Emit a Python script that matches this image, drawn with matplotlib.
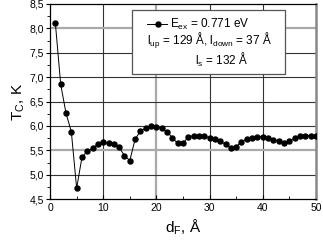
import numpy as np
import matplotlib.pyplot as plt
from matplotlib.ticker import MultipleLocator, FuncFormatter
from matplotlib.patches import Rectangle

plt.rcParams['font.family'] = ['Liberation Sans', 'DejaVu Sans']
plt.rcParams['mathtext.fontset'] = 'custom'
plt.rcParams['mathtext.rm'] = 'Liberation Sans'
plt.rcParams['mathtext.it'] = 'Liberation Sans'

d_f = list(range(1, 51))
t_c = [8.10, 6.85, 6.26, 5.88, 4.72, 5.36, 5.48, 5.54, 5.63, 5.66,
       5.65, 5.62, 5.56, 5.39, 5.29, 5.73, 5.89, 5.96, 5.99, 5.98,
       5.95, 5.88, 5.76, 5.64, 5.64, 5.78, 5.80, 5.80, 5.79, 5.76,
       5.73, 5.69, 5.62, 5.54, 5.57, 5.68, 5.73, 5.76, 5.78, 5.78,
       5.75, 5.72, 5.69, 5.65, 5.69, 5.75, 5.79, 5.80, 5.80, 5.79]

fig = plt.figure(figsize=(3.23, 2.44), dpi=100)
ax = fig.add_axes([0.155, 0.184, 0.823, 0.8])

# grid lines (some gray, some dark like the original)
for xv, c in [(10, '#333333'), (20, '#aaaaaa'), (30, '#333333'), (40, '#333333')]:
    ax.axvline(xv, color=c, lw=0.8 if c == '#333333' else 1.6, zorder=1)
for yv, c in [(8.0, '#aaaaaa'), (7.5, '#333333'), (7.0, '#333333'), (6.5, '#333333'),
              (6.0, '#333333'), (5.5, '#aaaaaa'), (5.0, '#333333')]:
    ax.axhline(yv, color=c, lw=0.8 if c == '#333333' else 1.6, zorder=1)

ax.plot(d_f, t_c, '-o', color='black', lw=0.7, ms=3.6, zorder=3)

ax.set_xlim(0, 50)
ax.set_ylim(4.5, 8.5)
ax.xaxis.set_major_locator(MultipleLocator(10))
ax.xaxis.set_minor_locator(MultipleLocator(5))
ax.yaxis.set_major_locator(MultipleLocator(0.5))
ax.yaxis.set_minor_locator(MultipleLocator(0.25))
ax.yaxis.set_major_formatter(FuncFormatter(lambda v, p: f'{v:.1f}'.replace('.', ',')))
ax.tick_params(axis='x', which='both', direction='in', labelsize=7.5, pad=3)
ax.tick_params(axis='x', which='major', length=3)
ax.tick_params(axis='x', which='minor', length=2)
ax.tick_params(axis='y', which='both', direction='out', labelsize=7.5, pad=1.5)
ax.tick_params(axis='y', which='major', length=3)
ax.tick_params(axis='y', which='minor', length=2)
for s in ['left', 'bottom', 'top']:
    ax.spines[s].set_linewidth(0.9)
ax.spines['right'].set_color('#888888')
ax.spines['right'].set_linewidth(1.8)

ax.set_xlabel(r'd$_F$, Å', fontsize=11, labelpad=3)
ax.set_ylabel(r'T$_C$, K', fontsize=11, labelpad=2)

# legend box
ax.add_patch(Rectangle((0.307, 0.641), 0.576, 0.328, transform=ax.transAxes,
                       facecolor='white', edgecolor='#555555', lw=0.9, zorder=4))
ax.plot([0.363, 0.44], [0.897, 0.897], '-', color='black', lw=0.7,
        transform=ax.transAxes, zorder=5)
ax.plot([0.407], [0.897], 'o', color='black', ms=3.6,
        transform=ax.transAxes, zorder=5)
ax.text(0.45, 0.897, r'E$_{ex}$ = 0.771 eV', transform=ax.transAxes,
        fontsize=8.5, va='center', ha='left', zorder=6)
ax.text(0.6, 0.812, r'l$_{up}$ = 129 Å, l$_{down}$ = 37 Å', transform=ax.transAxes,
        fontsize=8.5, va='center', ha='center', zorder=6)
ax.text(0.645, 0.712, r'l$_s$ = 132 Å', transform=ax.transAxes,
        fontsize=8.5, va='center', ha='center', zorder=6)

fig.savefig('out.png', dpi=100)
